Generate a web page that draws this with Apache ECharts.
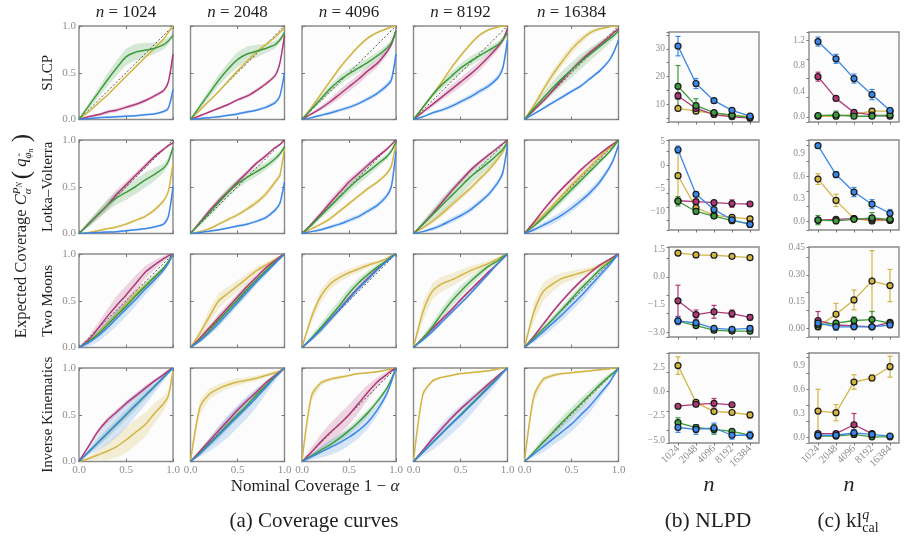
<!DOCTYPE html>
<html>
<head>
<meta charset="utf-8">
<script src="https://cdn.jsdelivr.net/npm/echarts@6/dist/echarts.min.js"></script>
<style>
  html, body { margin: 0; padding: 0; background: #fff; }
  #chart { width: 906px; height: 541px; }
</style>
</head>
<body>
<div id="chart"></div>
<script>
// ---- data ----
const sizes = ['1024', '2048', '4096', '8192', '16384']
const datasets = ['SLCP', 'Lotka–Volterra', 'Two Moons', 'Inverse Kinematics']
const alphaGrid = [0, 0.1, 0.2, 0.3, 0.4, 0.5, 0.6, 0.7, 0.8, 0.9, 0.95, 1]
const diagonal = [0, 1]

// coverage curves, one row per n
const slcpBlue = [
  [0, .01, .02, .025, .03, .035, .04, .05, .06, .085, .12, .32],
  [0, .01, .02, .03, .045, .06, .08, .1, .13, .18, .25, .5],
  [0, .02, .045, .07, .1, .13, .17, .22, .28, .36, .42, .7],
  [0, .03, .07, .1, .14, .19, .24, .3, .36, .45, .55, .85],
  [0, .06, .12, .18, .24, .3, .36, .44, .52, .63, .72, .85]
]
const slcpBlueBand = [
  [0, .005, .005, .01, .01, .01, .01, .01, .01, .015, .02, .02],
  [0, .005, .01, .01, .01, .015, .015, .015, .02, .02, .02, .02],
  [0, .01, .015, .02, .02, .02, .02, .025, .025, .03, .03, .03],
  [0, .01, .015, .02, .025, .025, .03, .03, .03, .03, .03, .03],
  [0, .01, .015, .02, .02, .02, .02, .02, .02, .02, .02, .02]
]
const slcpPink = [
  [0, .03, .05, .08, .1, .13, .16, .2, .25, .31, .4, .7],
  [0, .04, .08, .12, .16, .21, .25, .31, .38, .47, .6, .9],
  [0, .06, .12, .19, .27, .35, .43, .52, .6, .72, .8, .95],
  [0, .08, .16, .24, .32, .4, .48, .57, .67, .78, .85, .97],
  [0, .1, .2, .31, .42, .53, .63, .72, .8, .88, .93, .97]
]
const slcpPinkBand = [
  [0, .01, .015, .02, .02, .02, .02, .02, .02, .02, .02, .02],
  [0, .01, .01, .015, .015, .015, .02, .02, .02, .02, .02, .02],
  [0, .015, .025, .035, .045, .05, .05, .05, .045, .04, .03, .02],
  [0, .015, .025, .035, .045, .05, .05, .05, .045, .04, .03, .02],
  [0, .01, .02, .025, .03, .03, .03, .03, .025, .02, .015, .01]
]
const slcpGreen = [
  [0, .14, .28, .42, .55, .67, .72, .74, .76, .8, .84, .9],
  [0, .14, .28, .42, .54, .64, .7, .73, .76, .8, .85, .93],
  [0, .11, .22, .33, .42, .49, .55, .61, .68, .76, .82, .95],
  [0, .13, .26, .37, .46, .55, .62, .68, .74, .8, .85, .93],
  [0, .12, .23, .34, .44, .53, .62, .7, .78, .86, .9, .95]
]
const slcpGreenBand = [
  [0, .03, .05, .07, .08, .09, .09, .08, .06, .05, .04, .03],
  [0, .03, .05, .06, .07, .08, .08, .07, .05, .04, .03, .03],
  [0, .02, .03, .04, .05, .05, .05, .05, .04, .04, .03, .02],
  [0, .02, .03, .04, .05, .05, .05, .05, .04, .04, .03, .02],
  [0, .04, .06, .07, .08, .08, .08, .07, .06, .05, .04, .03]
]
const slcpGold = [
  [0, .08, .17, .26, .36, .46, .56, .66, .76, .86, .93, 1],
  [0, .1, .2, .3, .41, .52, .62, .72, .8, .88, .93, .98],
  [0, .13, .27, .41, .55, .67, .78, .87, .93, .97, .99, 1],
  [0, .13, .26, .4, .55, .68, .8, .9, .96, .99, 1, 1],
  [0, .15, .32, .48, .62, .75, .85, .93, .97, .99, 1, 1]
]
const slcpGoldBand = [
  [0, .01, .01, .01, .01, .01, .01, .01, .01, .01, .01, 0],
  [0, .01, .01, .01, .015, .015, .015, .015, .01, .01, .01, 0],
  [0, .01, .015, .02, .02, .02, .02, .015, .01, .01, .005, 0],
  [0, .01, .015, .02, .02, .02, .02, .015, .01, .01, .005, 0],
  [0, .03, .04, .05, .05, .05, .04, .03, .02, .01, .005, 0]
]

const lvBlue = [
  [0, .005, .01, .015, .02, .03, .04, .05, .07, .1, .18, .5],
  [0, .01, .025, .04, .06, .08, .1, .13, .17, .25, .32, .55],
  [0, .02, .04, .07, .1, .14, .18, .24, .3, .4, .5, .88],
  [0, .02, .05, .09, .14, .19, .25, .33, .42, .55, .65, .95],
  [0, .04, .09, .14, .2, .27, .35, .44, .55, .7, .8, .95]
]
const lvBlueBand = [
  [0, .005, .005, .01, .01, .01, .01, .01, .01, .015, .02, .02],
  [0, .005, .01, .01, .01, .015, .015, .015, .02, .02, .02, .02],
  [0, .01, .015, .02, .02, .025, .025, .025, .03, .03, .03, .02],
  [0, .01, .02, .025, .03, .03, .03, .03, .03, .03, .03, .02],
  [0, .02, .03, .04, .04, .04, .04, .04, .04, .03, .03, .02]
]
const lvPink = [
  [0, .1, .2, .3, .42, .52, .62, .72, .82, .9, .94, .97],
  [0, .12, .24, .35, .45, .55, .65, .75, .83, .92, .95, 1],
  [0, .1, .21, .33, .44, .55, .64, .73, .82, .9, .95, 1],
  [0, .1, .21, .33, .45, .56, .67, .76, .84, .92, .96, 1],
  [0, .12, .25, .37, .48, .58, .68, .77, .85, .93, .96, 1]
]
const lvPinkBand = [
  [0, .03, .04, .05, .05, .04, .03, .03, .02, .02, .01, 0],
  [0, .02, .03, .03, .03, .03, .03, .02, .02, .01, .01, 0],
  [0, .02, .03, .04, .04, .04, .03, .03, .02, .02, .01, 0],
  [0, .02, .03, .03, .03, .03, .03, .02, .02, .01, .01, 0],
  [0, .01, .02, .02, .02, .02, .02, .02, .01, .01, .01, 0]
]
const lvGreen = [
  [0, .1, .2, .3, .38, .44, .5, .57, .63, .7, .77, .92],
  [0, .11, .22, .33, .44, .53, .6, .66, .72, .8, .85, .93],
  [0, .09, .19, .29, .39, .49, .58, .66, .74, .82, .88, .98],
  [0, .1, .2, .3, .4, .5, .6, .68, .76, .85, .9, .98],
  [0, .08, .17, .27, .37, .47, .57, .67, .77, .87, .93, 1]
]
const lvGreenBand = [
  [0, .03, .05, .06, .07, .08, .08, .08, .07, .05, .04, .03],
  [0, .03, .04, .05, .05, .05, .05, .05, .04, .04, .03, .02],
  [0, .02, .03, .04, .05, .05, .05, .05, .04, .03, .02, .01],
  [0, .04, .06, .08, .09, .09, .08, .07, .06, .05, .03, .01],
  [0, .02, .03, .04, .04, .04, .04, .03, .03, .02, .02, 0]
]
const lvGold = [
  [0, .01, .03, .05, .07, .1, .14, .18, .25, .35, .45, .75],
  [0, .02, .05, .1, .15, .2, .26, .33, .42, .55, .62, .92],
  [0, .05, .1, .16, .24, .32, .4, .48, .55, .64, .72, .97],
  [0, .06, .13, .21, .3, .39, .48, .58, .68, .8, .87, .98],
  [0, .1, .2, .3, .41, .52, .62, .72, .82, .91, .95, 1]
]
const lvGoldBand = [
  [0, .005, .01, .01, .01, .015, .015, .02, .02, .02, .02, .02],
  [0, .01, .01, .015, .02, .02, .025, .03, .03, .03, .03, .02],
  [0, .01, .015, .02, .02, .02, .02, .02, .02, .02, .02, .01],
  [0, .01, .02, .03, .03, .03, .03, .03, .03, .02, .02, .01],
  [0, .02, .03, .04, .04, .04, .04, .03, .03, .02, .02, 0]
]

const tmBlue = [
  [0, .05, .12, .21, .31, .41, .51, .62, .72, .83, .9, 1],
  [0, .07, .16, .26, .37, .48, .59, .7, .8, .9, .95, 1],
  [0, .09, .19, .3, .41, .52, .63, .73, .83, .92, .96, 1],
  [0, .08, .17, .27, .37, .47, .57, .68, .79, .9, .95, 1],
  [0, .08, .17, .26, .35, .45, .55, .66, .77, .88, .94, 1]
]
const tmBlueBand = [
  [0, .04, .06, .07, .08, .08, .07, .06, .05, .03, .02, 0],
  [0, .02, .03, .04, .04, .04, .04, .03, .03, .02, .01, 0],
  [0, .02, .03, .03, .03, .03, .03, .03, .02, .02, .01, 0],
  [0, .01, .02, .02, .02, .02, .02, .02, .02, .01, .01, 0],
  [0, .03, .05, .06, .06, .06, .06, .05, .04, .03, .02, 0]
]
const tmPink = [
  [0, .08, .2, .33, .45, .56, .68, .8, .88, .95, .98, 1],
  [0, .1, .21, .32, .43, .54, .65, .75, .85, .93, .97, 1],
  [0, .09, .19, .3, .41, .53, .64, .74, .84, .93, .97, 1],
  [0, .1, .2, .3, .4, .51, .61, .71, .81, .9, .95, 1],
  [0, .12, .25, .38, .5, .61, .71, .8, .88, .94, .97, 1]
]
const tmPinkBand = [
  [0, .03, .06, .08, .1, .1, .09, .07, .05, .03, .02, 0],
  [0, .02, .03, .04, .04, .04, .04, .03, .03, .02, .01, 0],
  [0, .01, .02, .02, .02, .02, .02, .02, .02, .01, .01, 0],
  [0, .01, .02, .02, .02, .02, .02, .02, .02, .01, .01, 0],
  [0, .01, .02, .02, .02, .02, .02, .02, .02, .01, .01, 0]
]
const tmGreen = [
  [0, .06, .14, .24, .34, .44, .55, .65, .75, .85, .92, 1],
  [0, .08, .18, .29, .4, .51, .62, .72, .82, .91, .95, 1],
  [0, .1, .21, .33, .45, .58, .69, .78, .86, .93, .97, 1],
  [0, .1, .22, .36, .49, .6, .7, .79, .87, .93, .97, 1],
  [0, .1, .2, .3, .41, .52, .63, .73, .83, .91, .95, 1]
]
const tmGreenBand = [
  [0, .02, .03, .04, .04, .04, .04, .04, .03, .02, .01, 0],
  [0, .03, .04, .05, .05, .05, .05, .04, .03, .02, .01, 0],
  [0, .03, .05, .06, .06, .06, .05, .04, .03, .02, .01, 0],
  [0, .03, .05, .06, .06, .06, .05, .04, .03, .02, .01, 0],
  [0, .02, .03, .04, .04, .04, .04, .03, .03, .02, .01, 0]
]
const tmGold = [
  [0, .06, .15, .25, .35, .46, .57, .66, .74, .84, .9, 1],
  [0, .15, .33, .5, .58, .66, .74, .82, .88, .94, .97, 1],
  [0, .32, .55, .68, .75, .8, .84, .88, .91, .95, .98, 1],
  [0, .38, .6, .68, .72, .77, .82, .86, .9, .95, .98, 1],
  [0, .38, .6, .68, .74, .77, .8, .83, .87, .93, .97, 1]
]
const tmGoldBand = [
  [0, .02, .03, .04, .05, .05, .05, .04, .04, .03, .02, 0],
  [0, .05, .08, .08, .07, .06, .05, .04, .03, .02, .01, 0],
  [0, .06, .07, .06, .05, .04, .04, .03, .02, .01, .01, 0],
  [0, .1, .09, .08, .07, .06, .05, .04, .03, .02, .01, 0],
  [0, .1, .1, .08, .06, .05, .04, .03, .02, .01, .01, 0]
]

const ikBlue = [
  [0, .1, .2, .3, .4, .5, .6, .7, .8, .9, .95, 1],
  [0, .08, .18, .28, .38, .48, .58, .68, .79, .9, .95, 1],
  [0, .05, .1, .15, .2, .26, .33, .42, .55, .72, .85, 1],
  [0, .1, .2, .3, .4, .49, .59, .69, .79, .89, .95, 1],
  [0, .08, .16, .24, .32, .4, .5, .6, .72, .84, .92, 1]
]
const ikBlueBand = [
  [0, .03, .08, .12, .14, .14, .12, .1, .07, .04, .02, 0],
  [0, .03, .07, .1, .12, .12, .12, .1, .07, .04, .02, 0],
  [0, .03, .06, .08, .09, .09, .08, .07, .06, .04, .02, 0],
  [0, .04, .08, .1, .11, .11, .1, .08, .06, .04, .02, 0],
  [0, .03, .06, .07, .08, .08, .08, .07, .05, .03, .02, 0]
]
const ikPink = [
  [0, .16, .32, .44, .53, .62, .7, .78, .86, .93, .97, 1],
  [0, .11, .22, .33, .44, .55, .65, .74, .84, .92, .96, 1],
  [0, .1, .21, .31, .4, .5, .62, .74, .85, .93, .97, 1],
  [0, .12, .24, .35, .46, .56, .65, .74, .83, .92, .96, 1],
  null
]
const ikPinkBand = [
  [0, .02, .03, .03, .03, .03, .03, .03, .02, .02, .01, 0],
  [0, .02, .03, .04, .04, .04, .03, .03, .02, .02, .01, 0],
  [0, .05, .08, .1, .11, .11, .1, .08, .05, .03, .02, 0],
  [0, .01, .02, .02, .02, .02, .02, .02, .02, .01, .01, 0],
  null
]
const ikGreen = [
  [0, .1, .2, .3, .4, .5, .6, .7, .8, .9, .95, 1],
  [0, .09, .19, .29, .4, .5, .6, .71, .81, .91, .95, 1],
  [0, .06, .12, .18, .25, .33, .42, .52, .64, .78, .88, 1],
  [0, .1, .2, .3, .4, .5, .6, .7, .8, .9, .95, 1],
  [0, .1, .21, .31, .42, .52, .62, .72, .82, .91, .95, 1]
]
const ikGreenBand = [
  [0, .02, .04, .05, .05, .05, .05, .04, .03, .02, .01, 0],
  [0, .02, .04, .05, .05, .05, .05, .04, .03, .02, .01, 0],
  [0, .02, .03, .04, .04, .04, .04, .04, .03, .02, .01, 0],
  [0, .01, .02, .02, .02, .02, .02, .02, .02, .01, .01, 0],
  [0, .03, .05, .06, .06, .06, .06, .05, .04, .03, .02, 0]
]
const ikGold = [
  [0, .03, .07, .11, .16, .23, .31, .39, .51, .62, .7, .97],
  [0, .58, .72, .78, .82, .85, .87, .89, .92, .95, .97, 1],
  [0, .7, .84, .88, .9, .92, .94, .95, .96, .98, .99, 1],
  [0, .72, .86, .9, .92, .94, .95, .96, .97, .99, 1, 1],
  [0, .7, .88, .92, .94, .95, .96, .97, .98, .99, 1, 1]
]
const ikGoldBand = [
  [0, .02, .05, .09, .12, .14, .14, .13, .11, .08, .06, .03],
  [0, .08, .06, .05, .04, .04, .03, .03, .02, .02, .01, 0],
  [0, .06, .03, .02, .02, .01, .01, .01, .01, .01, .005, 0],
  [0, .03, .02, .01, .01, .01, .01, .01, .01, .005, .005, 0],
  [0, .06, .03, .02, .01, .01, .01, .01, .01, .005, .005, 0]
]

// (b) NLPD: value per n, and error half-width
const nlpdSlcp = { blue: [31, 17.5, 11.3, 7.8, 5.7], pink: [13, 8.5, 6.3, 5.5, 5.0], green: [16.5, 9.5, 7.0, 6.0, 5.2], gold: [8.5, 7.5, 6.7, 6.2, 5.5] }
const nlpdSlcpErr = { blue: [3.5, 1.8, 0.6, 0.6, 0.4], pink: [1.2, 0.8, 0.4, 0.3, 0.3], green: [7.5, 2.5, 0.6, 0.4, 0.3], gold: [0.5, 0.5, 0.4, 0.3, 0.3] }
const nlpdLv = { blue: [3.3, -6.3, -9.6, -11.8, -12.8], pink: [-7.7, -7.9, -8.1, -8.3, -8.4], green: [-7.8, -10, -11, -12, -12.7], gold: [-2.3, -9.2, -10.8, -11.3, -11.6] }
const nlpdLvErr = { blue: [0.8, 0.5, 0.5, 0.6, 0.5], pink: [0.4, 0.5, 0.4, 0.8, 0.3], green: [1, 0.4, 0.4, 0.4, 0.3], gold: [5, 1, 0.4, 0.4, 0.4] }
const nlpdTm = { blue: [-2.4, -2.5, -2.8, -2.85, -2.8], pink: [-1.3, -2.05, -1.9, -2.0, -2.2], green: [-2.4, -2.65, -2.9, -2.95, -2.95], gold: [1.3, 1.2, 1.18, 1.12, 1.05] }
const nlpdTmErr = { blue: [0.2, 0.15, 0.1, 0.1, 0.15], pink: [0.85, 0.25, 0.35, 0.2, 0.15], green: [0.1, 0.1, 0.1, 0.1, 0.15], gold: [0.05, 0.05, 0.05, 0.05, 0.05] }
const nlpdIk = { blue: [-3.7, -3.9, -3.75, -4.5, -4.5], pink: [-1.5, -1.3, -1.2, -1.35, null], green: [-3.2, -3.7, -3.9, -4.1, -4.5], gold: [2.7, -1.1, -2.05, -2.15, -2.4] }
const nlpdIkErr = { blue: [0.5, 0.5, 0.5, 0.4, 0.4], pink: [0.1, 0.2, 0.5, 0.1, null], green: [0.5, 0.3, 0.5, 0.2, 0.2], gold: [0.9, 0.2, 0.15, 0.1, 0.3] }

// (c) kl_cal
const klSlcp = { blue: [1.18, 0.91, 0.6, 0.35, 0.1], pink: [0.63, 0.29, 0.07, 0.03, 0.01], green: [0.02, 0.03, 0.01, 0.01, 0.03], gold: [0.01, 0.01, 0.04, 0.09, 0.09] }
const klSlcpErr = { blue: [0.07, 0.07, 0.07, 0.08, 0.04], pink: [0.07, 0.03, 0.02, 0.02, 0.01], green: [0.02, 0.06, 0.01, 0.01, 0.01], gold: [0.01, 0.01, 0.02, 0.04, 0.03] }
const klLv = { blue: [1.0, 0.62, 0.39, 0.23, 0.11], pink: [0.02, 0.03, 0.04, 0.03, 0.02], green: [0.02, 0.01, 0.03, 0.05, 0.03], gold: [0.56, 0.28, 0.04, 0.01, 0.02] }
const klLvErr = { blue: [0.03, 0.04, 0.06, 0.06, 0.05], pink: [0.02, 0.02, 0.02, 0.02, 0.02], green: [0.06, 0.01, 0.02, 0.07, 0.02], gold: [0.07, 0.08, 0.02, 0.02, 0.02] }
const klTm = { blue: [0.03, 0.01, 0.01, 0.01, 0.02], pink: [0.045, 0.02, 0.015, 0.01, 0.035], green: [0.02, 0.03, 0.045, 0.05, 0.03], gold: [0.01, 0.08, 0.16, 0.265, 0.24] }
const klTmErr = { blue: [0.01, 0.02, 0.005, 0.005, 0.01], pink: [0.05, 0.01, 0.01, 0.005, 0.01], green: [0.01, 0.01, 0.02, 0.045, 0.01], gold: [0.01, 0.06, 0.055, 0.17, 0.09] }
const klIk = { blue: [0.03, 0.03, 0.06, 0.04, 0.02], pink: [0.05, 0.05, 0.16, 0.05, null], green: [0.02, 0.02, 0.04, 0.01, 0.01], gold: [0.33, 0.31, 0.69, 0.74, 0.88] }
const klIkErr = { blue: [0.01, 0.01, 0.04, 0.01, 0.02], pink: [0.02, 0.02, 0.14, 0.02, null], green: [0.01, 0.01, 0.02, 0.01, 0.01], gold: [0.27, 0.1, 0.09, 0.04, 0.13] }

// axis ranges and tick values of the side panels
const nlpdRange = [[3.6, 36.1], [-14, 5.4], [-3.27, 1.63], [-5.3, 4.0]]
const nlpdTicks = [[10, 20, 30], [-10, -5, 0, 5], [-3, -1.5, 0, 1.5], [-5, -2.5, 0, 2.5]]
const nlpdDigits = [0, 0, 1, 1]
const klRange = [[-0.08, 1.33], [-0.11, 1.075], [-0.047, 0.455], [-0.066, 1.05]]
const klTicks = [[0, 0.4, 0.8, 1.2], [0, 0.3, 0.6, 0.9], [0, 0.15, 0.3, 0.45], [0, 0.3, 0.6, 0.9]]
const klDigits = [1, 1, 2, 1]

// ---- styling / layout ----
const colors = { blue: '#3a87e8', pink: '#b13877', green: '#3c9c3c', gold: '#d2b543' }
const drawOrder = ['gold', 'pink', 'green', 'blue']
const FONT = '"Liberation Serif", "DejaVu Serif", serif'
const TICK_COLOR = '#8d8d8d'
const covLeft = [79, 190.5, 302, 413.5, 524.5]
const covTop = [26, 140, 254, 368]
const covW = 94, covH = 93.5
const sideLeft = [669, 809]
const sideTop = [32, 140, 247, 353]
const sideW = 90, sideH = 90

const coverage = [
  { blue: [slcpBlue, slcpBlueBand], pink: [slcpPink, slcpPinkBand], green: [slcpGreen, slcpGreenBand], gold: [slcpGold, slcpGoldBand] },
  { blue: [lvBlue, lvBlueBand], pink: [lvPink, lvPinkBand], green: [lvGreen, lvGreenBand], gold: [lvGold, lvGoldBand] },
  { blue: [tmBlue, tmBlueBand], pink: [tmPink, tmPinkBand], green: [tmGreen, tmGreenBand], gold: [tmGold, tmGoldBand] },
  { blue: [ikBlue, ikBlueBand], pink: [ikPink, ikPinkBand], green: [ikGreen, ikGreenBand], gold: [ikGold, ikGoldBand] }
]
const nlpd = [[nlpdSlcp, nlpdSlcpErr], [nlpdLv, nlpdLvErr], [nlpdTm, nlpdTmErr], [nlpdIk, nlpdIkErr]]
const kl = [[klSlcp, klSlcpErr], [klLv, klLvErr], [klTm, klTmErr], [klIk, klIkErr]]

const grids = [], xAxes = [], yAxes = [], series = []

const fmt = (v, d) => {
  const s = Math.abs(v).toFixed(d)
  return v < -1e-9 ? '−' + s : s
}

function bandSeries(ax, mid, half, color) {
  const pts = alphaGrid.map((x, k) => [x, mid[k] - half[k], mid[k] + half[k]])
  return {
    type: 'custom', xAxisIndex: ax.x, yAxisIndex: ax.y, silent: true, clip: true, z: 1,
    data: pts, encode: { x: 0, y: [1, 2] },
    renderItem(params, api) {
      if (params.dataIndex !== 0) return null
      const upper = pts.map(d => api.coord([d[0], d[2]]))
      const lower = pts.map(d => api.coord([d[0], d[1]])).reverse()
      return { type: 'polygon', shape: { points: upper.concat(lower) }, style: { fill: color, opacity: 0.2 } }
    }
  }
}

function errSeries(ax, vals, errs, color) {
  const pts = []
  vals.forEach((v, k) => { if (v != null) pts.push([k, v - errs[k], v + errs[k]]) })
  return {
    type: 'custom', xAxisIndex: ax.x, yAxisIndex: ax.y, silent: true, z: 2,
    data: pts, encode: { x: 0, y: [1, 2] },
    renderItem(params, api) {
      const x = api.value(0)
      const lo = api.coord([x, api.value(1)])
      const hi = api.coord([x, api.value(2)])
      const st = { stroke: color, lineWidth: 1.2 }
      return {
        type: 'group', children: [
          { type: 'line', shape: { x1: lo[0], y1: lo[1], x2: hi[0], y2: hi[1] }, style: st },
          { type: 'line', shape: { x1: lo[0] - 2.5, y1: lo[1], x2: lo[0] + 2.5, y2: lo[1] }, style: st },
          { type: 'line', shape: { x1: hi[0] - 2.5, y1: hi[1], x2: hi[0] + 2.5, y2: hi[1] }, style: st }
        ]
      }
    }
  }
}

function addGrid(left, top, w, h) {
  grids.push({ left, top, width: w, height: h, show: true, backgroundColor: '#fcfcfc', borderColor: '#8a8a8a', borderWidth: 1.4 })
  return grids.length - 1
}

// coverage panels
for (let r = 0; r < 4; r++) {
  for (let c = 0; c < 5; c++) {
    const gi = addGrid(covLeft[c], covTop[r], covW, covH)
    const ax = { x: xAxes.length, y: yAxes.length }
    const tick = { show: true, inside: true, length: 3, lineStyle: { color: '#777', width: 1 } }
    const noLine = { show: false, onZero: false }
    xAxes.push({
      gridIndex: gi, type: 'value', min: 0, max: 1, interval: 0.5,
      axisLine: noLine, splitLine: { show: false }, axisTick: tick,
      axisLabel: { show: r === 3, color: TICK_COLOR, fontFamily: FONT, fontSize: 11, margin: 3, formatter: v => v.toFixed(1) }
    })
    yAxes.push({
      gridIndex: gi, type: 'value', min: 0, max: 1, interval: 0.5,
      axisLine: noLine, splitLine: { show: false }, axisTick: tick,
      axisLabel: { show: c === 0, color: TICK_COLOR, fontFamily: FONT, fontSize: 11, margin: 3, formatter: v => v.toFixed(1) }
    })
    // mirrored ticks on top / right edges
    xAxes.push({ gridIndex: gi, type: 'value', position: 'top', min: 0, max: 1, interval: 0.5, axisLine: noLine, splitLine: { show: false }, axisTick: tick, axisLabel: { show: false } })
    yAxes.push({ gridIndex: gi, type: 'value', position: 'right', min: 0, max: 1, interval: 0.5, axisLine: noLine, splitLine: { show: false }, axisTick: tick, axisLabel: { show: false } })

    const panel = coverage[r]
    drawOrder.forEach(m => {
      const [mid, band] = panel[m]
      if (mid[c]) series.push(bandSeries(ax, mid[c], band[c], colors[m]))
    })
    series.push({
      type: 'line', xAxisIndex: ax.x, yAxisIndex: ax.y, silent: true, symbol: 'none', z: 3,
      data: diagonal.map(v => [v, v]),
      lineStyle: { color: '#222', width: 0.8, type: [2, 2] }
    })
    drawOrder.forEach(m => {
      const mid = panel[m][0][c]
      if (!mid) return
      series.push({
        type: 'line', xAxisIndex: ax.x, yAxisIndex: ax.y, silent: true, symbol: 'none', smooth: 0.25, z: 4,
        data: alphaGrid.map((x, k) => [x, mid[k]]),
        lineStyle: { color: colors[m], width: 1.5 }
      })
    })
  }
}

// side panels (b) NLPD, (c) kl
;[[nlpd, nlpdRange, nlpdTicks, nlpdDigits], [kl, klRange, klTicks, klDigits]].forEach(([src, ranges, ticks, digits], col) => {
  for (let r = 0; r < 4; r++) {
    const gi = addGrid(sideLeft[col], sideTop[r], sideW, sideH)
    const ax = { x: xAxes.length, y: yAxes.length }
    xAxes.push({
      gridIndex: gi, type: 'category', data: sizes, boundaryGap: true,
      axisLine: { show: false, onZero: false }, splitLine: { show: false },
      axisTick: { show: true, length: 2.5, alignWithLabel: true, lineStyle: { color: '#777' } },
      axisLabel: {
        show: r === 3, interval: 0, rotate: 45, margin: 4,
        color: TICK_COLOR, fontFamily: FONT, fontSize: 10.5
      }
    })
    yAxes.push({
      gridIndex: gi, type: 'value', min: ranges[r][0], max: ranges[r][1],
      axisLine: { show: false, onZero: false }, splitLine: { show: false },
      axisTick: { show: true, length: 2.5, lineStyle: { color: '#777' } },
      axisLabel: {
        customValues: ticks[r], margin: 4, color: TICK_COLOR, fontFamily: FONT, fontSize: 9.5,
        formatter: v => fmt(v, digits[r])
      }
    })
    const [vals, errs] = src[r]
    drawOrder.forEach(m => {
      series.push(errSeries(ax, vals[m], errs[m], colors[m]))
    })
    drawOrder.forEach(m => {
      series.push({
        type: 'line', xAxisIndex: ax.x, yAxisIndex: ax.y, silent: true, z: 3,
        data: vals[m].map((v, k) => v == null ? null : [k, v]).filter(Boolean),
        symbol: 'circle', symbolSize: 6, showAllSymbol: true,
        lineStyle: { color: colors[m], width: 1.3 },
        itemStyle: { color: colors[m], borderColor: '#1b1b1b', borderWidth: 1.2 }
      })
    })
  }
})

// ---- math-ish text labels built from pieces ----
const measureCtx = document.createElement('canvas').getContext('2d')
function fontOf(p) { return (p.i ? 'italic ' : '') + p.s + 'px ' + FONT }
function mathLabel(cx, cy, parts, rotation) {
  let x = 0, maxX = 0
  const placed = []
  parts.forEach(p => {
    measureCtx.font = fontOf(p)
    const w = measureCtx.measureText(p.t).width
    const start = x + (p.dx || 0)
    placed.push({ p, x: start })
    if (p.adv !== false) x = start + w
    maxX = Math.max(maxX, start + w)
  })
  const x0 = -maxX / 2
  return {
    type: 'group', x: cx, y: cy, rotation: rotation || 0,
    children: placed.map(({ p, x }) => ({
      type: 'text', x: x0 + x, y: (p.dy || 0) - 0.3 * p.s, silent: true,
      style: {
        text: p.t, fontSize: p.s, fontFamily: FONT, fontStyle: p.i ? 'italic' : 'normal',
        fill: '#1f1f1f', align: 'left', verticalAlign: 'middle'
      }
    }))
  }
}

const graphics = []
sizes.forEach((n, c) => {
  graphics.push(mathLabel(covLeft[c] + covW / 2, 17.5, [{ t: 'n', s: 17, i: 1 }, { t: ' = ' + n, s: 17 }]))
})
datasets.forEach((d, r) => {
  graphics.push(mathLabel(53, covTop[r] + covH / 2, [{ t: d, s: 15 }], Math.PI / 2))
})
graphics.push(mathLabel(27, 236, [
  { t: 'Expected Coverage ', s: 16.5 },
  { t: 'C', s: 16.5, i: 1 },
  { t: 'α', s: 11, i: 1, dy: 4, adv: false },
  { t: 'P', s: 11, i: 1, dy: -7 },
  { t: 'N', s: 8, i: 1, dy: -5 },
  { t: ' ', s: 12 },
  { t: '(', s: 25, dy: 3 },
  { t: ' q', s: 16.5, i: 1 },
  { t: 'ˆ', s: 10, dy: -1, dx: 2, adv: false },
  { t: 'φ', s: 11, i: 1, dy: 4 },
  { t: 'n', s: 8, i: 1, dy: 6 },
  { t: ' )', s: 25, dy: 3 }
], Math.PI / 2))
graphics.push(mathLabel(315, 492, [{ t: 'Nominal Coverage 1 − ', s: 17 }, { t: 'α', s: 17, i: 1 }]))
graphics.push(mathLabel(314, 528, [{ t: '(a) Coverage curves', s: 21 }]))
graphics.push(mathLabel(sideLeft[0] + sideW / 2 - 5, 492, [{ t: 'n', s: 22, i: 1 }]))
graphics.push(mathLabel(sideLeft[1] + sideW / 2 - 5, 492, [{ t: 'n', s: 22, i: 1 }]))
graphics.push(mathLabel(sideLeft[0] + sideW / 2 - 6, 528, [{ t: '(b) NLPD', s: 21.5 }]))
graphics.push(mathLabel(sideLeft[1] + sideW / 2 - 6, 528, [
  { t: '(c) kl', s: 21 },
  { t: 'cal', s: 14, dy: 5, adv: false },
  { t: 'q', s: 14, i: 1, dy: -8 },
  { t: '  ', s: 14 }
]))

const chart = echarts.init(document.getElementById('chart'), null, { renderer: 'canvas' })
chart.setOption({
  animation: false,
  backgroundColor: '#ffffff',
  grid: grids,
  xAxis: xAxes,
  yAxis: yAxes,
  series,
  graphic: graphics
})
</script>
</body>
</html>
